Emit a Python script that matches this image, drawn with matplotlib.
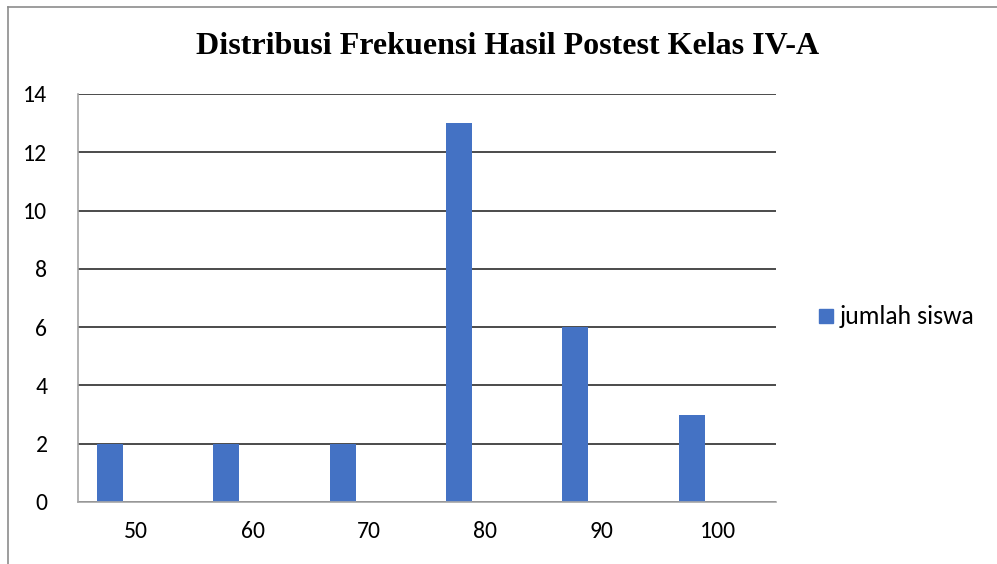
import matplotlib
matplotlib.use("Agg")
import matplotlib.pyplot as plt
from matplotlib.patches import Rectangle
from matplotlib.lines import Line2D

categories = ["50", "60", "70", "80", "90", "100"]
values = [2, 2, 2, 13, 6, 3]
yticks = [0, 2, 4, 6, 8, 10, 12, 14]
series_name = "jumlah siswa"
title = "Distribusi Frekuensi Hasil Postest Kelas IV-A"

W, H = 997, 564
fig = plt.figure(figsize=(W / 100, H / 100), dpi=100)

tick_font = ["Carlito", "Lato", "DejaVu Sans"]

# outer border lines (partial chart frame)
fig.add_artist(Line2D([8 / W, 8 / W], [0, 1 - 7 / H], color="#8c8c8c", lw=1.2, transform=fig.transFigure))
fig.add_artist(Line2D([8 / W, 1], [1 - 7 / H, 1 - 7 / H], color="#8c8c8c", lw=1.2, transform=fig.transFigure))

ax = fig.add_axes([78 / W, 1 - 502 / H, (776 - 78) / W, (502 - 94) / H])
x = list(range(len(categories)))
bw = 0.224
ax.bar([i - 0.337 for i in x], values, width=bw, align="edge", color="#4472C4", zorder=3)

ax.set_xlim(-0.5, len(categories) - 0.5)
ax.set_ylim(0, 14)
ax.set_yticks(yticks)
ax.set_yticklabels([str(t) for t in yticks], family=tick_font, fontsize=17)
ax.set_xticks(x)
ax.set_xticklabels(categories, family=tick_font, fontsize=17)
ax.tick_params(axis="both", length=0)
ax.tick_params(axis="y", pad=22)
ax.tick_params(axis="x", pad=14)
ax.yaxis.grid(True, color="#1a1a1a", lw=1.1, zorder=0)
ax.set_axisbelow(True)
for s in ["top", "right"]:
    ax.spines[s].set_visible(False)
for s in ["left", "bottom"]:
    ax.spines[s].set_color("#a6a6a6")
    ax.spines[s].set_linewidth(1.2)
    ax.spines[s].set_zorder(4)

fig.text(508 / W, 1 - 46 / H, title, ha="center", va="center",
         family=["Liberation Serif", "DejaVu Serif"], fontweight="bold", fontsize=23)

# legend
fig.add_artist(Rectangle((819 / W, 1 - 323 / H), 14 / W, 14 / H, color="#4472C4", transform=fig.transFigure))
fig.text(840 / W, 1 - 317 / H, series_name, ha="left", va="center", family=tick_font, fontsize=18.5)

fig.savefig("out.png", dpi=100)
